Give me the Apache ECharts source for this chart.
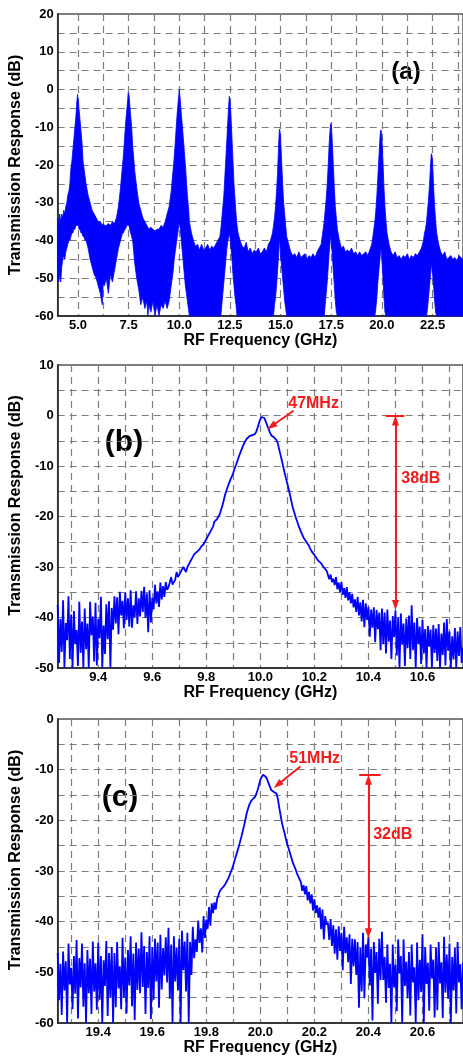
<!DOCTYPE html>
<html><head><meta charset="utf-8">
<script src="https://cdn.jsdelivr.net/npm/echarts@6.0.0/dist/echarts.min.js"></script>
<style>html,body{margin:0;padding:0;background:#fff}#c{width:463px;height:1057px}</style>
</head><body><div id="c"></div>
<script>
// ---------- Panel (a): wide-band spectrum, upper / lower envelope of the dense trace ----------
const freqA = [
  4.0,4.05,4.1,4.15,4.2,4.25,4.3,4.35,4.4,4.45,
  4.5,4.55,4.6,4.65,4.7,4.75,4.8,4.85,4.9,4.95,4.98,5.0,5.02,5.05,5.1,5.15,5.2,5.25,5.3,5.35,5.4,5.5,5.6,
  5.7,5.8,5.9,6.0,6.1,6.2,6.25,6.3,6.4,6.5,6.6,6.7,6.8,6.9,
  7.0,7.1,7.2,7.25,7.3,7.35,7.4,7.45,7.48,7.5,7.52,7.55,7.6,7.65,7.7,7.75,7.8,7.9,8.0,8.1,8.2,
  8.3,8.4,8.45,8.5,8.6,8.7,8.8,8.9,9.0,9.1,9.2,9.3,
  9.4,9.5,9.6,9.7,9.75,9.8,9.85,9.9,9.95,10.0,10.05,10.1,10.15,10.2,10.25,10.3,10.35,10.4,10.45,10.5,10.6,
  10.7,10.8,10.9,11.0,11.1,11.2,11.3,11.4,11.5,11.6,11.7,11.8,11.9,
  12.0,12.05,12.1,12.15,12.2,12.25,12.3,12.35,12.4,12.44,12.47,12.5,12.55,12.6,12.65,12.7,12.75,12.8,12.85,12.9,13.0,
  13.1,13.2,13.3,13.4,13.5,13.6,13.7,13.8,13.9,14.0,14.1,14.2,14.3,14.4,
  14.5,14.6,14.65,14.7,14.75,14.8,14.85,14.9,14.93,14.95,14.98,15.0,15.05,15.1,15.15,15.2,15.25,15.3,15.4,
  15.5,15.6,15.7,15.8,15.9,16.0,16.1,16.2,16.3,16.4,16.5,16.6,16.7,16.8,16.9,17.0,
  17.05,17.1,17.15,17.2,17.25,17.3,17.35,17.4,17.45,17.48,17.51,17.55,17.6,17.65,17.7,17.75,17.8,17.9,
  18.0,18.1,18.2,18.3,18.4,18.5,18.6,18.7,18.8,18.9,19.0,19.1,19.2,19.3,19.4,19.5,
  19.55,19.6,19.65,19.7,19.75,19.8,19.85,19.9,19.93,19.95,19.98,20.02,20.05,20.1,20.15,20.2,20.25,20.35,
  20.45,20.55,20.65,20.75,20.85,20.95,21.05,21.15,21.25,21.35,21.45,21.55,21.65,21.75,21.85,21.95,
  22.05,22.1,22.15,22.2,22.25,22.3,22.35,22.4,22.43,22.45,22.48,22.52,22.56,22.6,22.65,22.7,22.8,
  22.9,23.0,23.1,23.2,23.3,23.4,23.5,23.6,23.7,23.8,23.9,24.0
];
const upperA = [
  -34,-36,-33,-35,-33,-34,-32,-33,-31,-30,
  -28,-27,-25,-21,-19,-16,-13,-10,-7,-3,-1.3,-2.5,-3,-5,-8,-11,-14,-19,-21,-23,-25,-28,-30,
  -32,-33,-34,-35,-35,-36,-35.5,-36,-36,-35.5,-36,-35,-35.5,-34,
  -31,-26,-20,-17,-13,-9,-6,-3,-0.8,-1,-1.5,-3.5,-7,-10,-15,-18,-21.5,-26,-30,-32,-34,
  -35,-36,-36.5,-37,-36.5,-37,-37.5,-37,-37,-36,-36.5,-35,
  -33,-31,-27,-21,-18,-14,-10,-6,-3,0,-3,-6.5,-9.5,-13,-16.5,-20,-24,-28,-31,-35,-38,
  -40,-41.5,-41,-42.5,-41,-42.5,-42,-41,-42.5,-41.5,-42,-41,-40,
  -39,-37,-34,-31,-28,-23,-18,-13,-8,-4,-1.8,-3,-7,-13,-19,-25,-29,-33,-36,-38,-40,
  -41.5,-42,-40.5,-43,-42,-43.5,-42.5,-43,-42,-43.5,-43,-42,-43,-41,
  -40,-38,-36,-34,-31,-27,-22,-15,-11.5,-10.5,-11.5,-13,-19,-25,-30,-33,-36,-39,-41,
  -43,-44,-43.5,-44.5,-43,-44.5,-44,-43.5,-45,-44,-44.5,-43.5,-44.5,-43,-42,-41,
  -39,-37,-35,-32,-29,-25,-20,-14,-10,-9,-10,-14,-20,-26,-31,-34,-37,-40,
  -42,-41.5,-43,-42.5,-43,-42,-43.5,-43,-44,-43,-44,-43.5,-43,-44,-42.5,-41,
  -39,-37,-35,-32,-28,-23,-18,-13,-11,-10.7,-11.5,-15,-19,-26,-31,-35,-38,-41,
  -43,-44,-43,-44.5,-44,-45,-44,-44.5,-43.5,-45,-44,-44.5,-43.5,-44,-43,-42,
  -40,-38,-37,-35,-32,-29,-25,-20,-17.5,-17,-18,-22,-27,-31,-35,-38,-41,
  -43,-44,-43,-45,-44.5,-44,-45,-44.5,-45.5,-44,-44.5,-45
];
const lowerA = [
  -50,-51,-49,-51,-47,-45,-44,-45,-43,-42,
  -41,-40,-40,-39,-38,-38,-37,-37,-36,-36,-36,-36,-36,-37,-37,-38,-38,-39,-39,-40,-40,-42,-45,
  -47,-49,-50,-52,-54,-57,-51,-52,-50,-54,-49,-51,-48,-45,
  -42,-40,-38,-38,-37,-37,-36,-36,-36,-36,-36,-37,-38,-39,-40,-43,-46,-50,-53,-57,-55,
  -58,-56,-60,-57,-59,-56,-60,-57,-60,-57,-58,-56,
  -58,-56,-52,-48,-45,-43,-41,-39,-37,-35,-37,-40,-43,-46,-49,-52,-54,-56,-58,-60,-60,
  -60,-60,-60,-60,-60,-60,-60,-60,-60,-60,-60,-60,-60,
  -60,-60,-57,-54,-51,-48,-45,-42,-40,-39,-38,-39,-42,-45,-49,-52,-55,-57,-60,-60,-60,
  -60,-60,-60,-60,-60,-60,-60,-60,-60,-60,-60,-60,-60,-60,
  -60,-60,-60,-57,-55,-52,-48,-44,-41,-39,-42,-44,-47,-50,-53,-56,-58,-60,-60,
  -60,-60,-60,-60,-60,-60,-60,-60,-60,-60,-60,-60,-60,-60,-60,-60,
  -60,-60,-60,-57,-54,-51,-47,-43,-40,-39,-41,-44,-48,-52,-56,-59,-60,-60,
  -60,-60,-60,-60,-60,-60,-60,-60,-60,-60,-60,-60,-60,-60,-60,-60,
  -60,-60,-60,-58,-55,-51,-48,-45,-43,-42,-44,-47,-50,-55,-59,-60,-60,-60,
  -60,-60,-60,-60,-60,-60,-60,-60,-60,-60,-60,-60,-60,-60,-60,-60,
  -60,-60,-60,-60,-58,-55,-52,-49,-47,-46,-48,-50,-53,-56,-59,-60,-60,
  -60,-60,-60,-60,-60,-60,-60,-60,-60,-60,-60,-60
];
const gridXA  = [5.0,6.25,7.5,8.75,10.0,11.25,12.5,13.75,15.0,16.25,17.5,18.75,20.0,21.25,22.5,23.75];
const labelXA = [5.0,7.5,10.0,12.5,15.0,17.5,20.0,22.5];
const labelYA = [-60,-50,-40,-30,-20,-10,0,10,20];

// ---------- Panel (b): 10 GHz passband, 0.005 GHz steps from 9.25 GHz ----------
const startB = 9.25, stepB = 0.005;
const respB = [
  -37.5,-49.0,-40.3,-46.8,-36.6,-50.0,-41.1,-44.5,-35.8,-48.2,-39.4,-50.0,-38.7,-45.3,-42.5,-49.6,-36.9,-47.0,-40.8,-50.0,
  -38.2,-46.3,-41.2,-50.0,-36.9,-43.5,-39.8,-48.7,-37.1,-49.5,-40.3,-44.1,-35.9,-50.0,-41.6,-47.2,-37.4,-44.3,-36.8,-50.0,
  -38.1,-42.4,-35.8,-41.2,-36.0,-43.3,-34.9,-39.6,-36.7,-42.1,-35.0,-40.5,-36.2,-41.8,-34.6,-42.0,-37.6,-39.9,-34.8,-41.3,
  -36.2,-39.8,-34.7,-38.9,-33.9,-40.1,-35.2,-42.9,-34.6,-41.0,-36.1,-38.4,-33.5,-37.2,-34.8,-37.9,-33.1,-36.4,-33.8,-35.9,
  -33,-34.5,-34,-33,-32,-33.5,-33,-32.5,-31,-32,-32,-31,-31,-30,-30,-31,-30,-29.5,-29,-28.5,
  -28,-27.5,-27.5,-27,-27,-26.5,-26,-25.8,-25.5,-25,-24.5,-24,-23.5,-23,-22.5,-22,-21,-21,-20.5,-20,
  -19.5,-18.6,-17.8,-16.7,-15.6,-14.8,-14.0,-13.3,-12.6,-12.0,-11.3,-10.5,-9.8,-9.0,-8.2,-7.5,-6.8,-6.1,-5.5,-5.0,
  -4.6,-4.3,-4.1,-4.0,-3.9,-3.8,-3.7,-3.2,-2.4,-1.5,-0.7,-0.3,-0.1,-0.5,-1.2,-1.9,-2.6,-3.3,-3.9,-4.2,
  -4.3,-4.5,-4.9,-5.6,-6.8,-7.9,-9.0,-10.2,-11.4,-12.5,-13.5,-14.6,-15.8,-17.0,-18.2,-19.1,-20.0,-20.8,-21.6,-22.3,
  -23.0,-23.6,-24.2,-24.6,-25.0,-25.4,-25.8,-26.4,-26.9,-27.2,-27.6,-28.0,-28.3,-28.8,-29.1,-29.3,-29.6,-30.1,-30.4,-30.7,
  -31.0,-32.4,-31.5,-33.0,-32.3,-33.6,-32.0,-34.4,-33.1,-35.0,-33.0,-35.5,-34.2,-36.1,-34.0,-36.6,-35.0,-37.2,-35.3,-38.0,
  -36.4,-38.9,-35.9,-39.6,-37.0,-40.8,-36.5,-41.9,-37.2,-40.5,-37.9,-43.8,-38.4,-42.0,-38.0,-44.9,-38.5,-42.3,-39.0,-46.5,
  -38.2,-45.3,-39.0,-47.1,-38.4,-44.8,-40.6,-48.2,-39.7,-43.9,-38.6,-47.5,-40.0,-50.0,-39.2,-45.4,-41.2,-49.6,-40.2,-46.1,
  -39.6,-48.2,-37.6,-46.5,-41.0,-50.0,-40.1,-45.3,-41.8,-49.2,-40.5,-47.1,-42.3,-50.0,-41.7,-45.8,-42.4,-49.9,-41.5,-47.0,
  -42.2,-48.6,-41.3,-50.0,-43.2,-47.4,-41.0,-49.5,-40.3,-46.6,-42.8,-50.0,-43.7,-48.3,-42.1,-50.0,-42.8,-47.6,-41.9,-49.0,
  -46
];
const gridXB  = [9.3,9.4,9.5,9.6,9.7,9.8,9.9,10.0,10.1,10.2,10.3,10.4,10.5,10.6,10.7];
const labelXB = [9.4,9.6,9.8,10.0,10.2,10.4,10.6];
const labelYB = [-50,-40,-30,-20,-10,0,10];

// ---------- Panel (c): 20 GHz passband, 0.005 GHz steps from 19.25 GHz ----------
const startC = 19.25, stepC = 0.005;
const respC = [
  -46.2,-55.5,-48.3,-58.4,-45.9,-53.6,-47.8,-60.0,-44.3,-52.4,-49.1,-57.3,-46.8,-54.2,-43.6,-59.1,-47.2,-53.0,-44.3,-56.8,
  -48.2,-60.0,-45.6,-54.1,-47.3,-58.2,-43.9,-53.8,-48.2,-57.4,-44.1,-55.4,-46.8,-60.0,-47.6,-52.7,-43.8,-58.6,-46.2,-54.9,
  -45.0,-60.0,-46.2,-56.9,-44.0,-53.2,-48.8,-57.3,-43.2,-55.0,-47.1,-58.1,-45.6,-52.6,-42.9,-56.7,-46.3,-59.4,-44.1,-53.5,
  -45.3,-54.1,-42.1,-52.9,-44.8,-58.2,-46.0,-53.1,-42.9,-59.2,-45.0,-55.4,-43.4,-51.8,-44.1,-57.0,-42.6,-53.4,-45.2,-50.6,
  -43.1,-52.0,-41.2,-55.2,-44.5,-60.0,-42.9,-51.8,-45.1,-53.6,-43.4,-60.0,-41.8,-49.6,-43.9,-53.8,-42.2,-60.0,-44.0,-50.5,
  -41.0,-47.2,-43.5,-46.0,-39.8,-44.2,-41.3,-46.1,-38.9,-43.2,-39.6,-41.4,-37.1,-40.8,-36.4,-38.3,-36.2,-37.6,-35.5,-34.8,
  -34.0,-33.6,-33.3,-33.0,-32.6,-32.1,-31.6,-31.0,-30.3,-29.6,-28.8,-27.9,-27.0,-26.1,-25.2,-24.2,-23.2,-22.1,-21.0,-19.8,
  -18.5,-17.6,-16.8,-16.3,-15.9,-15.6,-15.4,-14.8,-14.0,-13.0,-12.0,-11.4,-11.0,-10.9,-11.4,-11.9,-12.6,-13.3,-14.0,-14.3,
  -14.4,-14.5,-14.7,-15.8,-17.5,-19.0,-20.5,-21.6,-22.6,-23.8,-24.8,-25.6,-26.5,-27.4,-28.3,-29.0,-29.6,-30.4,-31.0,-31.6,
  -32.2,-33.9,-32.8,-34.6,-33.0,-35.8,-34.1,-36.4,-34.6,-37.8,-35.6,-38.3,-36.8,-39.2,-37.2,-41.5,-37.6,-43.5,-38.9,-40.6,
  -40.2,-43.6,-39.5,-44.8,-40.7,-46.3,-41.5,-47.5,-40.9,-45.8,-42.2,-49.6,-41.0,-46.2,-43.1,-48.0,-42.5,-52.3,-43.4,-48.8,
  -43.5,-50.5,-44.0,-57.0,-45.2,-53.8,-42.2,-55.1,-44.5,-47.1,-43.0,-52.6,-45.3,-59.5,-44.0,-50.1,-46.0,-56.2,-43.4,-51.5,
  -42.0,-51.5,-47.0,-56.0,-44.5,-53.1,-48.3,-60.0,-44.5,-53.0,-48.5,-57.7,-43.5,-50.2,-46.8,-60.0,-43.5,-52.7,-47.9,-55.1,
  -46.0,-58.5,-44.5,-52.0,-49.0,-60.0,-44.1,-55.5,-47.5,-53.9,-42.5,-60.0,-45.0,-52.3,-48.1,-57.6,-44.5,-51.2,-47.5,-58.9,
  -45.1,-57.5,-44.0,-52.2,-48.0,-59.0,-43.0,-54.0,-46.5,-55.2,-44.3,-60.0,-47.0,-53.6,-45.2,-58.1,-44.0,-52.0,-48.4,-57.3,
  -48
];
const gridXC  = [19.3,19.4,19.5,19.6,19.7,19.8,19.9,20.0,20.1,20.2,20.3,20.4,20.5,20.6,20.7];
const labelXC = [19.4,19.6,19.8,20.0,20.2,20.4,20.6];
const labelYC = [-60,-50,-40,-30,-20,-10,0];

// ---------- Annotations (arrow end points sit half an arrowhead inside the tips) ----------
const bwLabelB = '47MHz', bwArrowB = [[10.123, 0.95], [10.041, -2.14]], bwTextB = [10.197, 2.3];
const depthB = {f: 10.5, top: -1.0, bottom: -37.5, bar: 0, barFrom: 10.464, barTo: 10.533, text: '38dB', textAt: [10.594, -12.4]};
const bwLabelC = '51MHz', bwArrowC = [[20.148, -9.37], [20.064, -12.98]], bwTextC = [20.201, -7.85];
const depthC = {f: 20.4, top: -12.0, bottom: -42.3, bar: -11, barFrom: 20.366, barTo: 20.445, text: '32dB', textAt: [20.49, -22.9]};

// ---------- Chart ----------
const FONT = '"Liberation Sans", Arial, Helvetica, sans-serif';
const BLUE = '#0000ff', RED = '#f21c1c';
const gridLine = {show: true, lineStyle: {color: '#7d7d7d', width: 1.2, type: [7, 5]}};
const tickFont = {fontFamily: FONT, fontWeight: 'bold', fontSize: 13, color: '#000'};
const nameFont = {fontFamily: FONT, fontWeight: 'bold', fontSize: 16, color: '#000'};

function xAxisOf(idx, min, max, ticks, labels) {
  return {
    type: 'value', gridIndex: idx, min: min, max: max,
    name: 'RF Frequency (GHz)', nameLocation: 'middle', nameGap: 17, nameTextStyle: nameFont,
    axisLine: {onZero: false, lineStyle: {color: '#222', width: 1.5}},
    axisTick: {show: false, customValues: ticks},
    axisLabel: Object.assign({customValues: labels, margin: 3, formatter: v => Number(v).toFixed(1)}, tickFont),
    splitLine: gridLine
  };
}
function yAxisOf(idx, min, max, labels, pad) {
  return {
    type: 'value', gridIndex: idx, min: min, max: max, interval: 5,
    name: 'Transmission Response (dB)', nameLocation: 'middle', nameGap: 22,
    nameTextStyle: Object.assign({padding: [0, 0, 0, pad]}, nameFont),
    axisLine: {show: true, onZero: false, lineStyle: {color: '#222', width: 1.5}},
    axisTick: {show: false},
    axisLabel: Object.assign({customValues: labels, margin: 4, formatter: v => String(v)}, tickFont),
    splitLine: gridLine
  };
}
function annotations(bwLabel, bwArrow, bwText, depth) {
  return {
    markLine: {
      silent: true, animation: false, symbol: ['none', 'none'], symbolSize: [7, 10],
      label: {show: false},
      lineStyle: {color: RED, width: 2, type: 'solid'},
      data: [
        [{coord: bwArrow[0], symbol: 'none'}, {coord: bwArrow[1], symbol: 'triangle'}],
        [{coord: [depth.f, depth.top], symbol: 'triangle'}, {coord: [depth.f, depth.bottom], symbol: 'triangle'}],
        [{coord: [depth.barFrom, depth.bar], symbol: 'none'}, {coord: [depth.barTo, depth.bar], symbol: 'none'}]
      ]
    },
    markPoint: {
      silent: true, animation: false, symbol: 'rect', symbolSize: 1,
      itemStyle: {color: 'rgba(0,0,0,0)'},
      label: {show: true, position: 'inside', formatter: p => p.name,
              fontFamily: FONT, fontWeight: 'bold', fontSize: 16, color: RED},
      data: [{name: bwLabel, coord: bwText}, {name: depth.text, coord: depth.textAt}]
    }
  };
}

const rowsA = freqA.map((f, i) => [f, upperA[i], lowerA[i]]);
const lineB = respB.map((v, i) => [+(startB + i * stepB).toFixed(3), v]);
const lineC = respC.map((v, i) => [+(startC + i * stepC).toFixed(3), v]);

const chart = echarts.init(document.getElementById('c'), null, {renderer: 'canvas'});
chart.setOption({
  animation: false,
  backgroundColor: '#fff',
  textStyle: {fontFamily: FONT},
  grid: [
    {left: 54, top: 14, right: -2, height: 302, show: true, borderColor: '#555', borderWidth: 1.5},
    {left: 56, top: 365, right: -4, height: 303, show: true, borderColor: '#555', borderWidth: 1.5},
    {left: 53, top: 719, right: -2, height: 304, show: true, borderColor: '#555', borderWidth: 1.5}
  ],
  xAxis: [
    xAxisOf(0, 4, 24, gridXA, labelXA),
    xAxisOf(1, 9.25, 10.75, gridXB, labelXB),
    xAxisOf(2, 19.25, 20.75, gridXC, labelXC)
  ],
  yAxis: [
    yAxisOf(0, -60, 20, labelYA, 0),
    yAxisOf(1, -50, 10, labelYB, 22),
    yAxisOf(2, -60, 0, labelYC, 22)
  ],
  graphic: [
    {type: 'text', x: 406, y: 72, style: {text: '(a)', font: 'bold 24px "Liberation Sans", Arial', fill: '#000', textAlign: 'center', textVerticalAlign: 'middle'}},
    {type: 'text', x: 124, y: 443, style: {text: '(b)', font: 'bold 30px "Liberation Sans", Arial', fill: '#000', textAlign: 'center', textVerticalAlign: 'middle'}},
    {type: 'text', x: 120, y: 798, style: {text: '(c)', font: 'bold 30px "Liberation Sans", Arial', fill: '#000', textAlign: 'center', textVerticalAlign: 'middle'}}
  ],
  series: [
    {
      type: 'custom', xAxisIndex: 0, yAxisIndex: 0, data: rowsA, encode: {x: 0, y: [1, 2]}, silent: true,
      renderItem: function (params, api) {
        if (params.dataIndex !== 0) return null;
        const pts = [];
        for (let i = 0; i < rowsA.length; i++) pts.push(api.coord([rowsA[i][0], rowsA[i][1]]));
        for (let i = rowsA.length - 1; i >= 0; i--) pts.push(api.coord([rowsA[i][0], rowsA[i][2]]));
        return {type: 'polygon', shape: {points: pts}, style: {fill: BLUE, stroke: BLUE, lineWidth: 0.8}};
      }
    },
    Object.assign({
      type: 'line', xAxisIndex: 1, yAxisIndex: 1, data: lineB, showSymbol: false, symbol: 'none',
      lineStyle: {color: BLUE, width: 1.8}, itemStyle: {color: BLUE}
    }, annotations(bwLabelB, bwArrowB, bwTextB, depthB)),
    Object.assign({
      type: 'line', xAxisIndex: 2, yAxisIndex: 2, data: lineC, showSymbol: false, symbol: 'none',
      lineStyle: {color: BLUE, width: 1.8}, itemStyle: {color: BLUE}
    }, annotations(bwLabelC, bwArrowC, bwTextC, depthC))
  ]
});
</script></body></html>
